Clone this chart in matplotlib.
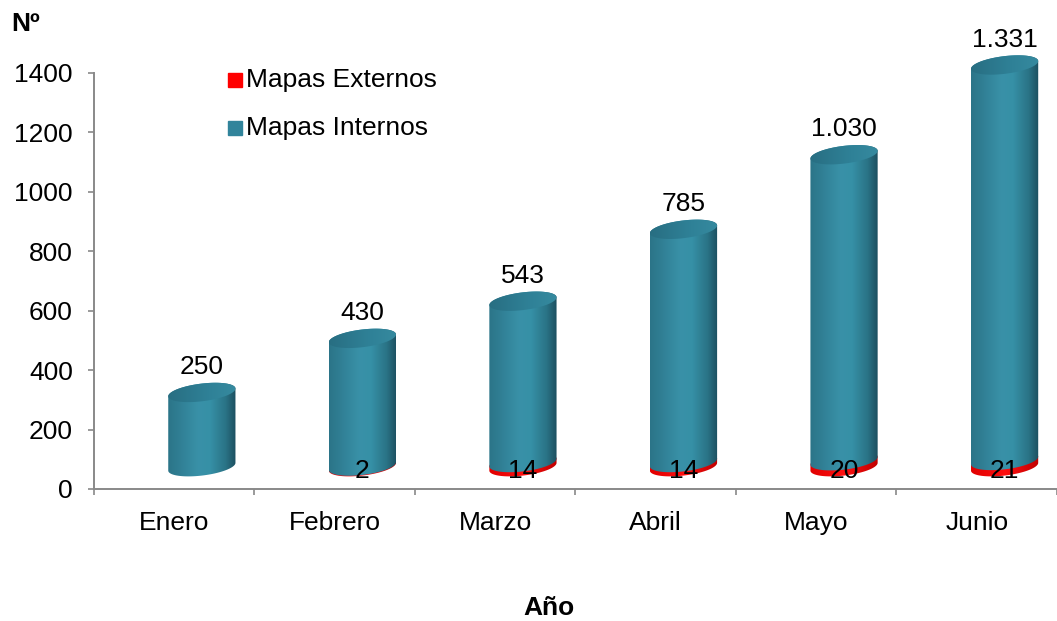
import numpy as np
import matplotlib
matplotlib.use('Agg')
import matplotlib.pyplot as plt
from matplotlib.patches import Polygon, Rectangle
from matplotlib.colors import LinearSegmentedColormap

# ---- data ----
meses = ['Enero', 'Febrero', 'Marzo', 'Abril', 'Mayo', 'Junio']
externos = [0, 2, 14, 14, 20, 21]
internos = [250, 430, 543, 785, 1030, 1331]
yticks = [0, 200, 400, 600, 800, 1000, 1200, 1400]
series_names = ['Mapas Externos', 'Mapas Internos']

plt.rcParams['font.family'] = ['Liberation Sans', 'DejaVu Sans']
FS = 19

W, H = 1057, 621
fig = plt.figure(figsize=(W / 100, H / 100), dpi=100)

PXX = 161.3          # px per category
PXY = 416 / 1400     # px per data unit
x0px, y0px = 93.7, 489
ax_h_px = 463.5
ax = fig.add_axes([x0px / W, (H - y0px) / H, (W - x0px) / W, ax_h_px / H])
xlim = (-0.5, -0.5 + (W - x0px) / PXX)
ylim = (0, ax_h_px / PXY)

# cylinder geometry (pixel units -> converted to data)
A_PX, B_PX, TH = 34.0, 8.8, np.deg2rad(7)
dx = 28 / PXX
base = 75
t0 = np.arctan2(-B_PX * np.sin(TH), A_PX * np.cos(TH))

teal_cmap = LinearSegmentedColormap.from_list(
    't', [(0, '#2b7488'), (0.45, '#3991a8'), (0.62, '#3690a6'), (0.85, '#2a7386'), (1, '#1c4f5f')])
cap_cmap = LinearSegmentedColormap.from_list(
    'c', [(0, '#286e82'), (0.6, '#2f8197'), (1, '#368a9f')])
red_cmap = LinearSegmentedColormap.from_list(
    'r', [(0, '#e00000'), (0.5, '#ff1010'), (1, '#c00000')])

grad = np.linspace(0, 1, 256).reshape(1, -1)
aw = A_PX / PXX


def ell(cx, cy, t):
    xp = A_PX * np.cos(t) * np.cos(TH) - B_PX * np.sin(t) * np.sin(TH)
    yp = A_PX * np.cos(t) * np.sin(TH) + B_PX * np.sin(t) * np.cos(TH)
    return cx + xp / PXX, cy + yp / PXY


def clipped_gradient(pts, cx, ylo, yhi, cmap, z):
    poly = Polygon(pts, closed=True, transform=ax.transData)
    im = ax.imshow(grad, extent=[cx - aw, cx + aw, ylo - 60, yhi + 60],
                   aspect='auto', cmap=cmap, zorder=z, interpolation='bilinear')
    im.set_clip_path(poly)


def body(cx, ylo, yhi, cmap, z):
    t1 = np.linspace(t0 + np.pi, t0 + 2 * np.pi, 90)
    t2 = np.linspace(t0, t0 + np.pi, 90)
    xa, ya = ell(cx, ylo, t1)
    xb, yb = ell(cx, yhi, t2)
    pts = np.column_stack([np.r_[xa, xb], np.r_[ya, yb]])
    clipped_gradient(pts, cx, ylo, yhi, cmap, z)


def cap(cx, y, cmap, z):
    t = np.linspace(0, 2 * np.pi, 180)
    xs, ys = ell(cx, y, t)
    clipped_gradient(np.column_stack([xs, ys]), cx, y, y, cmap, z)


for i, (e, v) in enumerate(zip(externos, internos)):
    cx = i + dx
    y_e = base + e
    y_t = y_e + v
    if e > 0:
        body(cx, base, y_e, red_cmap, 2 + i * 0.01)
    body(cx, y_e, y_t, teal_cmap, 3 + i * 0.01)
    cap(cx, y_t, cap_cmap, 4 + i * 0.01)
    ax.text(cx, y_t + 62, f'{v:,}'.replace(',', '.'), ha='center', va='baseline',
            fontsize=FS, zorder=6)
    if e > 0:
        ax.text(cx, 38, f'{e}', ha='center', va='baseline', fontsize=FS, zorder=6)

ax.set_xlim(*xlim)
ax.set_ylim(*ylim)

gray = '#898989'
for s in ['top', 'right']:
    ax.spines[s].set_visible(False)
for s in ['left', 'bottom']:
    ax.spines[s].set_color(gray)
    ax.spines[s].set_linewidth(1.4)
ax.spines['left'].set_bounds(0, 1400)

ax.set_yticks(yticks)
ax.set_yticklabels([str(t) for t in yticks], fontsize=FS)
ax.tick_params(axis='y', length=4.5, width=1.2, color=gray, pad=10.5)
ax.set_xticks(range(len(meses)))
ax.set_xticklabels(meses, fontsize=FS)
ax.tick_params(axis='x', length=0, pad=16)
ax.set_xticks([i + 0.5 for i in range(-1, len(meses))], minor=True)
ax.tick_params(axis='x', which='minor', length=4.5, width=1.2, color=gray)
ax.set_facecolor('none')

# legend
colors = ['#ff0000', '#31849b']
for j, (name, c) in enumerate(zip(series_names, colors)):
    yc = 80 + j * 48
    fig.add_artist(Rectangle((228 / W, 1 - (yc + 7) / H), 14 / W, 14 / H,
                             transform=fig.transFigure, color=c))
    fig.text(246 / W, 1 - yc / H, name, fontsize=FS, va='center', ha='left')

fig.text(11 / W, 1 - 24 / H, 'Nº', fontsize=FS, fontweight='bold', va='center', ha='left')
fig.text(549 / W, 1 - 608 / H, 'Año', fontsize=FS, fontweight='bold', va='center', ha='center')

fig.savefig('out.png', dpi=100)
